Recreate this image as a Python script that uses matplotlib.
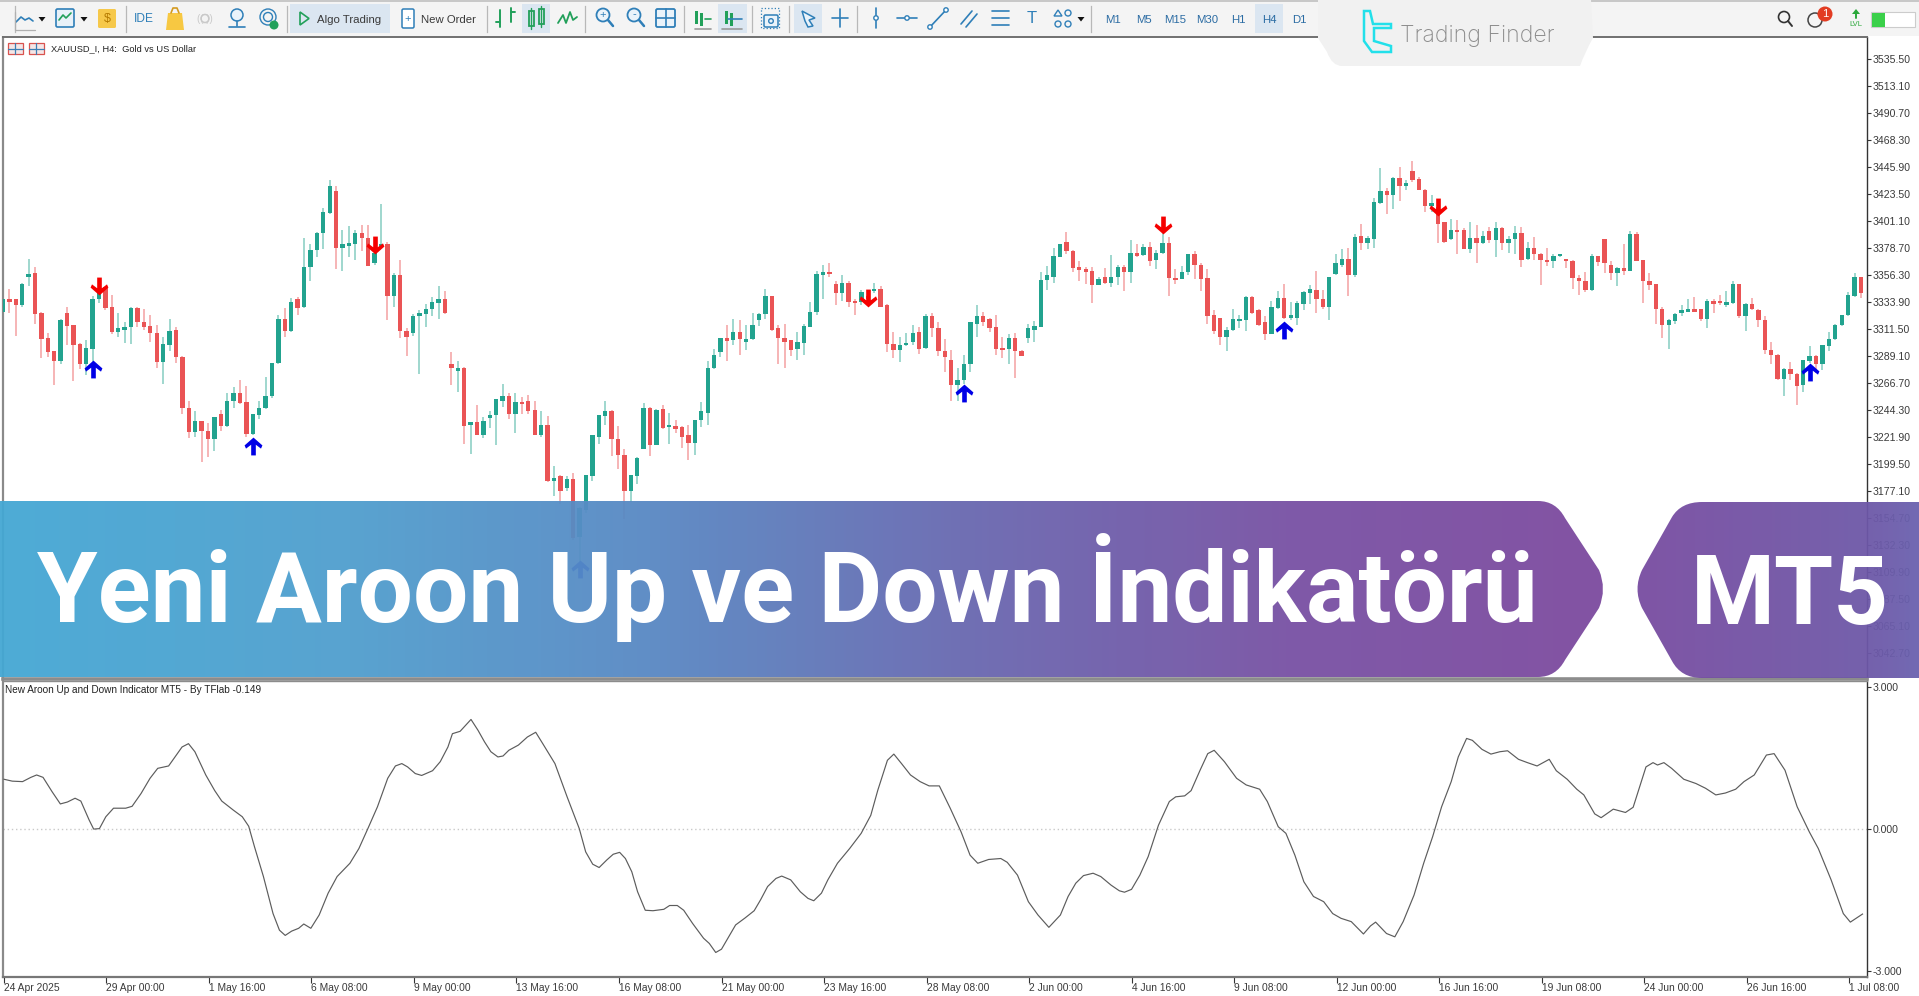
import numpy as np
import matplotlib
matplotlib.use("Agg")
import matplotlib.pyplot as plt
from matplotlib.path import Path
from matplotlib.patches import PathPatch, Rectangle, Circle, Polygon, FancyBboxPatch

body_high = [
3336,3336.5,3336,3349,3357,3358,3325,3304,3293,3319,
3325,3315,3299,3296,3336,3341,3346,3330,3312,3313,
3329,3329,3317,3314,3308,3299,3310,3311,3288,3246,
3235,3235,3227,3238,3241,3252,3258,3258,3251,3241,
3246,3256,3283,3320,3320,3334,3336,3363,3377,3391,
3409,3430,3426,3382,3383,3391,3391,3387,3375,3382,
3382,3356,3356,3310,3322,3325,3328,3334,3336,3336,
3282,3279,3279,3234,3234,3235,3240,3253,3256,3256,
3251,3251,3252,3244,3232,3232,3188,3189,3187,3187,
3163,3190,3223,3240,3243,3243,3220,3207,3190,3204,
3246,3246,3244,3245,3232,3231,3230,3223,3236,3243,
3279,3290,3304,3304,3309,3309,3303,3315,3324,3339,
3339,3312,3304,3302,3301,3314,3326,3357,3359,3359,
3349,3350,3350,3335,3342,3339,3345,3345,3331,3299,
3298,3300,3308,3309,3322,3322,3312,3293,3286,3269,
3282,3317,3322,3322,3320,3313,3296,3304,3304,3293,
3312,3314,3352,3356,3372,3382,3384,3376,3363,3361,
3360,3353,3355,3355,3363,3363,3375,3375,3380,3380,
3375,3383,3383,3354,3359,3374,3374,3365,3354,3323,
3321,3311,3320,3320,3338,3338,3327,3317,3330,3337,
3337,3323,3333,3342,3345,3344,3336,3355,3366,3370,
3370,3388,3389,3387,3417,3426,3426,3437,3437,3433,
3443,3436,3427,3416,3413,3400,3394,3394,3394,3387,
3387,3389,3393,3395,3395,3386,3391,3391,3379,3379,
3374,3369,3372,3374,3370,3368,3354,3351,3372,3372,
3386,3365,3362,3362,3390,3390,3369,3351,3349,3328,
3319,3324,3327,3328,3328,3328,3335,3335,3335,3334,
3349,3349,3332,3332,3327,3319,3294,3290,3278,3278,
3274,3286,3289,3289,3298,3303,3315,3323,3340,3355,3355]

body_low = [
3326,3335.5,3331,3331,3356,3324,3303,3292,3285,3285,
3314,3298,3282,3282,3295,3336,3329,3309,3309,3312,
3313,3317,3313,3308,3284,3284,3298,3288,3246,3226,
3226,3227,3220,3220,3231,3231,3252,3250,3224,3224,
3240,3246,3256,3283,3310,3310,3329,3330,3363,3377,
3391,3408,3379,3379,3382,3382,3387,3364,3366,3381,
3339,3339,3310,3305,3308,3322,3324,3328,3333,3325,
3279,3278,3231,3232,3223,3223,3239,3240,3252,3241,
3241,3250,3243,3223,3223,3185,3185,3177,3179,3138,
3139,3161,3189,3222,3239,3220,3207,3177,3177,3189,
3212,3215,3215,3229,3230,3230,3222,3217,3217,3236,
3242,3279,3292,3302,3302,3303,3302,3303,3319,3324,
3311,3304,3301,3294,3295,3300,3313,3326,3356,3358,
3341,3341,3334,3334,3334,3336,3343,3330,3299,3294,
3294,3298,3301,3295,3296,3312,3293,3288,3265,3265,
3269,3282,3316,3317,3312,3295,3295,3295,3293,3289,
3304,3311,3313,3352,3355,3371,3376,3362,3361,3360,
3348,3348,3350,3350,3355,3359,3359,3372,3373,3368,
3369,3375,3354,3353,3353,3359,3365,3353,3322,3310,
3305,3305,3311,3319,3319,3325,3315,3307,3307,3329,
3321,3322,3321,3332,3341,3336,3330,3330,3357,3365,
3356,3356,3383,3383,3386,3416,3423,3423,3430,3430,
3435,3427,3414,3414,3399,3384,3386,3393,3378,3378,
3383,3383,3385,3385,3383,3383,3386,3369,3370,3374,
3369,3368,3368,3372,3369,3354,3351,3344,3344,3367,
3366,3358,3358,3360,3360,3368,3351,3348,3328,3315,
3315,3318,3325,3326,3327,3320,3320,3332,3334,3333,
3333,3322,3322,3328,3319,3294,3290,3270,3270,3274,
3264,3265,3285,3282,3282,3297,3303,3315,3323,3339,3341]

wick_high = [
3336,3345,3336,3350,3370,3363,3326,3308,3293,3320,
3330,3315,3300,3302,3339,3348,3346,3340,3325,3317,
3330,3330,3328,3323,3315,3305,3320,3313,3289,3252,
3243,3235,3233,3238,3244,3258,3263,3269,3264,3241,
3252,3272,3283,3323,3329,3337,3338,3387,3382,3392,
3412,3435,3430,3394,3397,3394,3398,3398,3385,3415,
3384,3358,3369,3312,3324,3327,3332,3338,3347,3343,
3292,3285,3280,3234,3248,3238,3243,3253,3266,3258,
3258,3255,3257,3252,3243,3239,3198,3190,3189,3192,
3164,3190,3223,3240,3252,3244,3231,3212,3190,3205,
3250,3247,3245,3248,3242,3236,3231,3232,3236,3251,
3285,3295,3304,3315,3320,3319,3315,3325,3325,3345,
3339,3315,3316,3302,3309,3316,3334,3360,3365,3366,
3351,3356,3351,3336,3344,3341,3350,3347,3332,3309,
3305,3308,3315,3313,3324,3325,3317,3303,3294,3279,
3290,3317,3331,3326,3321,3323,3305,3307,3308,3294,
3316,3318,3359,3364,3379,3382,3392,3377,3368,3363,
3363,3355,3362,3373,3365,3365,3385,3382,3382,3384,
3377,3392,3388,3361,3364,3374,3376,3366,3361,3327,
3321,3313,3328,3323,3339,3339,3328,3322,3335,3343,
3349,3334,3335,3343,3348,3360,3344,3355,3374,3378,
3379,3390,3399,3389,3420,3445,3429,3438,3446,3435,
3451,3438,3428,3423,3419,3400,3403,3402,3395,3400,
3398,3393,3396,3400,3396,3389,3397,3396,3384,3388,
3375,3379,3374,3374,3370,3369,3356,3359,3374,3372,
3386,3368,3363,3382,3393,3392,3369,3358,3349,3330,
3320,3325,3331,3336,3338,3328,3336,3336,3340,3343,
3351,3349,3333,3337,3328,3322,3301,3291,3279,3284,
3275,3286,3297,3290,3298,3309,3316,3323,3342,3358,3355]

wick_low = [
3326,3325,3306,3330,3347,3316,3287,3288,3265,3282,
3298,3268,3278,3273,3283,3333,3327,3307,3305,3300,
3299,3313,3311,3301,3279,3266,3293,3283,3241,3221,
3222,3201,3205,3210,3227,3230,3246,3249,3222,3223,
3237,3245,3254,3282,3305,3309,3323,3329,3351,3371,
3378,3407,3361,3360,3371,3369,3376,3364,3365,3380,
3319,3330,3304,3289,3306,3274,3313,3322,3320,3324,
3265,3259,3216,3208,3223,3221,3229,3215,3247,3237,
3225,3241,3241,3223,3222,3184,3173,3166,3177,3136,
3118,3159,3185,3216,3232,3206,3195,3154,3168,3183,
3212,3206,3215,3228,3216,3225,3213,3203,3207,3230,
3232,3278,3288,3285,3298,3290,3294,3302,3314,3320,
3310,3282,3279,3289,3286,3290,3313,3323,3336,3355,
3331,3335,3330,3323,3331,3335,3341,3330,3292,3287,
3284,3297,3298,3291,3295,3305,3289,3276,3252,3252,
3266,3276,3305,3314,3309,3290,3287,3282,3271,3289,
3300,3301,3313,3344,3350,3371,3374,3359,3351,3349,
3333,3348,3349,3346,3348,3343,3350,3371,3372,3364,
3361,3374,3339,3349,3353,3356,3353,3343,3316,3307,
3298,3293,3310,3312,3310,3324,3314,3302,3307,3328,
3320,3319,3315,3327,3332,3325,3328,3319,3356,3363,
3339,3355,3377,3378,3379,3415,3407,3411,3418,3427,
3434,3427,3409,3409,3383,3383,3385,3374,3378,3375,
3366,3382,3383,3371,3377,3375,3374,3363,3369,3369,
3348,3364,3362,3371,3362,3345,3340,3342,3343,3364,
3358,3352,3347,3356,3360,3368,3333,3344,3316,3304,
3295,3316,3322,3326,3326,3318,3312,3325,3331,3330,
3332,3321,3310,3327,3313,3291,3282,3269,3256,3269,
3248,3259,3283,3275,3277,3293,3302,3314,3322,3338,3337]

direction = (
"GRRGGRRRRG" "RRRGGGRRGG" "GRRRRGGRRR" "GRRGRGGRRG" "GGGGRGRGGG"
"GGRGGGRRGG" "RGRRGGGGGR" "RGRGRGGGGR" "GRRRGRGRGR" "GGGGGRRRGG"
"GRGRGRRRGG" "GGGRGRGGGG" "RRRRGGGGGR" "RGRRGRGRRR" "GGGRGRRRRG"
"GGGRRRRGRR" "GGGGGGRRRR" "RGRGGRGRGR" "GGRRGGRRRR" "RGGGGRRRGG"
"RGGGGRRGGG" "RGRGGGRGRG" "RRRGRRGRRG" "RGRGRGGRGR" "RRGGRRRRGR"
"RRGRGRRRRR" "GGGGRRGRRG" "GRGRRRRRGR" "RGGRGGGGGGR")

up_arrow_bars = [14, 39, 90, 150, 200, 282]
up_arrow_prices = [3278, 3214, 3112, 3258, 3311, 3276]
down_arrow_bars = [15, 58, 135, 181, 224]
down_arrow_prices = [3347, 3381, 3337, 3398, 3413]

osc_bar = [
0.0,1.3,2.9,4.2,5.1,6.1,7.5,8.8,9.9,11.1,12.0,13.3,14.0,14.9,15.9,17.1,19.0,20.0,21.4,22.8,
24.0,25.7,26.7,27.8,28.8,29.8,31.5,32.9,34.0,35.8,37.2,38.2,39.1,40.5,42.0,43.0,43.9,44.9,46.0,46.8,
47.9,49.2,50.6,52.0,54.0,55.4,56.8,58.3,59.9,61.1,62.1,63.0,64.2,65.2,66.9,68.1,69.3,70.0,71.2,72.9,
74.0,75.0,76.0,77.1,77.9,78.8,80.3,81.7,83.0,84.1,86.0,87.9,89.8,90.8,91.9,92.9,94.1,95.1,96.1,97.0,
98.0,98.9,100.1,101.3,103.0,103.9,105.1,106.1,107.5,109.2,110.1,111.1,112.0,113.3,114.2,115.7,117.1,118.1,119.2,120.5,
121.4,122.8,124.3,125.5,126.4,127.6,128.6,130.1,132.0,133.8,135.3,136.4,137.9,138.9,140.1,141.5,143.0,144.4,146.0,147.7,
149.4,150.8,152.0,153.7,155.6,156.6,158.2,159.9,161.4,163.1,164.9,166.1,167.3,168.5,170.0,171.2,172.8,174.1,174.9,176.0,
177.3,178.6,180.2,181.9,182.9,184.3,185.3,186.7,187.9,188.9,190.5,192.4,193.9,196.0,197.2,198.9,200.1,201.5,202.9,204.4,
206.0,207.4,208.7,210.3,212.2,213.3,214.1,215.8,217.1,218.4,220.1,221.6,223.0,224.4,225.9,227.0,228.3,229.2,230.7,232.1,
233.5,234.7,236.4,237.8,239.3,241.2,242.3,244.0,245.5,246.6,248.3,249.3,251.2,253.1,254.3,256.3,257.4,258.1,259.1,260.3,
262.2,264.1,265.6,267.2,268.7,270.3,271.6,273.2,275.1,276.3,278.0,279.9,281.8,283.2,285.2,287.1,288.2,290.1]
osc_val = [
1.05,1.01,1.00,1.09,1.14,1.09,0.79,0.53,0.57,0.65,0.59,0.19,0.00,0.01,0.26,0.44,0.44,0.48,0.75,1.07,
1.28,1.33,1.52,1.73,1.80,1.63,1.14,0.81,0.59,0.40,0.26,0.06,-0.37,-1.00,-1.78,-2.13,-2.24,-2.15,-2.09,-2.00,
-2.09,-1.81,-1.35,-1.00,-0.72,-0.41,0.01,0.47,1.07,1.33,1.38,1.31,1.17,1.13,1.23,1.42,1.73,2.01,2.06,2.31,
2.08,1.84,1.63,1.52,1.54,1.66,1.77,1.94,2.04,1.80,1.38,0.68,0.01,-0.48,-0.74,-0.81,-0.65,-0.53,-0.49,-0.62,
-0.90,-1.32,-1.71,-1.72,-1.69,-1.61,-1.61,-1.71,-1.99,-2.30,-2.41,-2.60,-2.53,-2.23,-2.02,-1.87,-1.72,-1.49,-1.21,-1.04,
-0.99,-1.07,-1.32,-1.46,-1.51,-1.35,-1.07,-0.72,-0.41,-0.09,0.29,0.82,1.45,1.58,1.38,1.14,1.00,0.91,0.91,0.44,
-0.06,-0.55,-0.72,-0.64,-0.62,-0.70,-0.97,-1.53,-1.81,-2.07,-1.81,-1.42,-1.14,-0.98,-0.93,-1.00,-1.18,-1.30,-1.33,-1.27,
-0.97,-0.58,0.08,0.58,0.68,0.70,0.81,1.24,1.59,1.66,1.42,1.07,0.93,0.84,0.58,0.05,-0.09,-0.55,-1.11,-1.42,
-1.53,-1.78,-1.88,-1.95,-2.21,-2.04,-1.96,-2.20,-2.27,-1.95,-1.39,-0.72,-0.16,0.47,1.00,1.52,1.91,1.87,1.68,1.58,
1.63,1.65,1.47,1.40,1.33,1.47,1.23,1.05,0.84,0.72,0.32,0.24,0.42,0.35,0.46,1.31,1.40,1.35,1.40,1.28,
1.05,0.96,0.86,0.72,0.76,0.84,1.00,1.14,1.56,1.59,1.24,0.47,-0.06,-0.41,-1.07,-1.78,-1.96,-1.79]

price_ticks = [3535.50,3513.10,3490.70,3468.30,3445.90,3423.50,3401.10,3378.70,3356.30,3333.90,3311.50,3289.10,
               3266.70,3244.30,3221.90,3199.50,3177.10,3154.70,3132.30,3109.90,3087.50,3065.10,3042.70]
osc_ticks = [3.0, 0.0, -3.0]
time_tick_bars = list(range(0, 289, 16))
time_labels = ["24 Apr 2025","29 Apr 00:00","1 May 16:00","6 May 08:00","9 May 00:00","13 May 16:00","16 May 08:00",
               "21 May 00:00","23 May 16:00","28 May 08:00","2 Jun 00:00","4 Jun 16:00","9 Jun 08:00","12 Jun 00:00",
               "16 Jun 16:00","19 Jun 08:00","24 Jun 00:00","26 Jun 16:00","1 Jul 08:00"]

W, H = 1919, 996
plt.rcParams["font.family"] = ["Liberation Sans", "DejaVu Sans"]
fig = plt.figure(figsize=(W/100, H/100), dpi=100, facecolor="white")

def axpx(x0, y0, x1, y1, **kw):
    return fig.add_axes([x0/W, 1-y1/H, (x1-x0)/W, (y1-y0)/H], **kw)

GREEN, RED = "#22a38f", "#ea5455"
TXT = "#3a3a3a"

# ---- price pane
ax = axpx(3, 36.7, 1867, 679)
ax.set_xlim(0.01, 290.95)
ax.set_ylim(3020.7, 3554.3)
n = len(body_high)
xs = np.arange(n)
up = np.array([c == "G" for c in direction])
bh, bl = np.array(body_high, float), np.array(body_low, float)
colors = np.where(up, GREEN, RED)
ax.vlines(xs, wick_low, wick_high, colors=colors, linewidth=1.1, alpha=0.55, zorder=2)
heights = np.maximum(bh-bl, 2.2)
ax.bar(xs, heights, bottom=bh-heights, width=0.68, color=colors, linewidth=0, zorder=3)

up_m = Path([(-.13,-.5),(.13,-.5),(.13,.1),(.42,-.12),(.5,.06),(0,.5),(-.5,.06),(-.42,-.12),(-.13,.1),(-.13,-.5)], closed=True)
dn_m = Path([(x,-y) for x,y in up_m.vertices], closed=True)
ax.scatter(up_arrow_bars, up_arrow_prices, marker=up_m, s=165, color="#0000e6", linewidths=0, zorder=5)
ax.scatter(down_arrow_bars, down_arrow_prices, marker=dn_m, s=165, color="#f50000", linewidths=0, zorder=5)

ax.yaxis.tick_right()
ax.set_yticks(price_ticks)
ax.set_yticklabels([f"{v:.2f}" for v in price_ticks])
ax.tick_params(axis="y", length=3.2, width=0.8, pad=0.8, labelsize=7.6, labelcolor=TXT, color="#333333")
ax.set_xticks([])
ax.spines["top"].set(color="#707070", linewidth=1.4)
ax.spines["left"].set(color="#8a8a8a", linewidth=1.6)
ax.spines["right"].set(color="#333333", linewidth=1.0)
ax.spines["bottom"].set(color="#8c8c8c", linewidth=2.6)

# ---- oscillator pane
ao = axpx(3, 681, 1867, 976.7)
ao.set_xlim(-0.15, 290.8)
ao.set_ylim(-3.11, 3.12)
ao.axhline(0, color="#c9c9c9", linewidth=1.0, linestyle=(0, (1, 2)), zorder=1)
ao.plot(osc_bar, osc_val, color="#5c5c5c", linewidth=0.85, zorder=3)
ao.yaxis.tick_right()
ao.set_yticks(osc_ticks)
ao.set_yticklabels(["3.000", "0.000", "-3.000"])
ao.tick_params(axis="y", length=3.2, width=0.8, pad=0.8, labelsize=7.6, labelcolor=TXT, color="#333333")
ao.set_xticks(time_tick_bars)
ao.set_xticklabels(time_labels, ha="left")
ao.tick_params(axis="x", length=4, width=0.8, pad=0.5, labelsize=7.4, labelcolor=TXT, color="#333333")
for s, c, lw in [("top", "#8c8c8c", 1.0), ("left", "#8a8a8a", 1.6), ("right", "#333333", 1.0), ("bottom", "#777777", 1.6)]:
    ao.spines[s].set(color=c, linewidth=lw)

# ---- overlay in pixel coordinates
ov = fig.add_axes([0, 0, 1, 1], zorder=10)
ov.patch.set_alpha(0)
ov.axis("off")

def rrect(x0, y0, x1, y1, fc, ec="none", lw=0, z=2, r=1.5):
    ov.add_patch(FancyBboxPatch((x0+r, y0+r), x1-x0-2*r, y1-y0-2*r, boxstyle=f"round,pad={r}", fc=fc, ec=ec, lw=lw, zorder=z))

def gradient(stops, x0, x1, y0, y1, clip, alpha):
    xx = np.arange(x0, x1)
    px, cs = zip(*stops)
    cs = np.array(cs)/255
    img = np.stack([np.interp(xx, px, cs[:, k]) for k in range(3)], -1)[None, :, :]
    im = ov.imshow(img, extent=[x0, x1, y1, y0], aspect="auto", alpha=alpha, zorder=6, interpolation="bilinear")
    im.set_clip_path(clip)

M, L, C = Path.MOVETO, Path.LINETO, Path.CURVE3
b1 = Path([(0,501),(1538,501),(1556,501),(1565,518),(1599,570),(1607,589),(1599,608),(1565,660),(1556,677),(1538,677),(0,677),(0,501)],
          [M,L,C,C,L,C,C,L,C,C,L,L])
b2 = Path([(1919,502),(1702,502),(1681,502),(1672,517),(1642,570),(1633,589),(1642,608),(1672,661),(1681,678),(1702,678),(1919,678),(1919,502)],
          [M,L,C,C,L,C,C,L,C,C,L,L])
p1 = PathPatch(b1, fc="none", ec="none", transform=ov.transData)
p2 = PathPatch(b2, fc="none", ec="none", transform=ov.transData)
ov.add_patch(p1); ov.add_patch(p2)
gradient([(0,(68,168,212)),(350,(80,158,206)),(650,(88,136,195)),(960,(104,104,176)),(1300,(120,80,163)),(1603,(124,74,158))],
         0, 1610, 501, 677, p1, 0.95)
gradient([(1637,(120,76,160)),(1867,(110,88,168)),(1919,(106,98,175))], 1630, 1919, 502, 678, p2, 0.95)

BANNER_FONT = ["Roboto", "DejaVu Sans"]
ov.text(37, 622, "Yeni Aroon Up ve Down İndikatörü", color="white", fontsize=70.6, fontweight="bold",
        family=BANNER_FONT, ha="left", va="baseline", zorder=8)
ov.text(1691, 624, "MT5", color="white", fontsize=69, fontweight="bold",
        family=BANNER_FONT, ha="left", va="baseline", zorder=8)

# toolbar
ov.add_patch(Rectangle((0, 0), W, 36, fc="#f4f4f4", ec="none", zorder=1))
ov.add_patch(Rectangle((0, 0), W, 2, fc="#c8c8c8", ec="none", zorder=1.1))
for (x0, x1) in [(290, 390), (522, 550), (718, 747), (794, 822), (1255, 1283)]:
    ov.add_patch(Rectangle((x0, 4), x1-x0, 29, fc="#dbe6f1", ec="none", zorder=1.5))
for x in [15, 125.5, 287, 487, 585, 684, 752, 789, 857, 1091]:
    ov.plot([x, x], [6, 32], color="#b8b8b8", lw=0.9, zorder=2)
BL, GR = "#2f7fb8", "#22a05a"
def T(x, y, s, c=TXT, fs=8.2, **kw):
    ov.text(x, y, s, color=c, fontsize=fs, ha=kw.pop("ha", "left"), va="center", zorder=3, **kw)
def P(xs_, ys_, c, lw=1.2):
    ov.plot(xs_, ys_, color=c, lw=lw, zorder=3, solid_capstyle="round")
def tri(x, y):
    ov.add_patch(Polygon([(x-3.5, y-2), (x+3.5, y-2), (x, y+2.5)], fc="#111111", ec="none", zorder=3))
P([16,21,25,29,33], [22,17,20,18,21], BL); P([15,15,35], [12,30,30], "#b0b0b0", 0.9); tri(42, 19)
rrect(56, 9, 74, 27, "#e8f1f8", BL, 1.2, 3); P([59,63,66,71], [20,15,18,13], GR); tri(84, 19)
rrect(98, 9, 116, 28, "#f6c84a", "none", 0, 3); T(107, 18.5, "$", "#b57a00", 9, ha="center")
T(134, 18.5, "IDE", BL, 8.6)
ov.add_patch(Polygon([(168,13),(182,13),(184,30),(166,30)], fc="#f7c842", ec="none", zorder=3)); P([171,173,177,179], [13,8,8,13], "#d49a20")
ov.add_patch(Circle((205, 18.5), 4, fc="none", ec="#c9c9c9", lw=1.1, zorder=3)); T(205, 18.5, "(( ))", "#c9c9c9", 7, ha="center")
ov.add_patch(Circle((237, 15), 6, fc="#eaf3fa", ec=BL, lw=1.1, zorder=3)); P([237,237], [21,26], BL); P([229,245], [27,27], BL)
ov.add_patch(Circle((268, 17), 8, fc="none", ec=BL, lw=1.0, zorder=3)); ov.add_patch(Circle((268, 17), 4.5, fc="none", ec=BL, lw=1.0, zorder=3)); ov.add_patch(Circle((274, 25), 4.5, fc=GR, ec="none", zorder=3.2))
ov.add_patch(Polygon([(300,12),(309,18.5),(300,25)], fc="none", ec=GR, lw=1.2, zorder=3)); T(317, 19.5, "Algo Trading")
rrect(402, 9, 414, 28, "white", BL, 1.1, 3); T(408, 18.5, "+", BL, 8, ha="center"); T(421, 19.5, "New Order")
P([500,500], [10,27], GR, 1.4); P([511,511], [8,22], GR, 1.4); P([496,500], [22,22], GR, 1.4); P([511,515], [12,12], GR, 1.4)
for x, (a, b) in [(531, (11, 26)), (541, (9, 24))]:
    ov.add_patch(Rectangle((x-2.5, a), 5, b-a, fc="none", ec=GR, lw=1.3, zorder=3)); P([x,x], [a-3,b+3], GR, 1)
P([558,563,566,570,573,577], [23,15,23,12,20,17], GR, 1.3)
for x, s in [(603, "+"), (634, "-")]:
    ov.add_patch(Circle((x, 15), 6.5, fc="#eaf3fa", ec=BL, lw=1.3, zorder=3)); P([x+5,x+10], [20,26], BL, 1.8); T(x, 14.5, s, BL, 8, ha="center")
rrect(656, 9, 675, 27, "#eaf3fa", BL, 1.3, 3); P([665.5,665.5], [9,27], BL); P([656,675], [18,18], BL)
for x0 in [696, 726]:
    for dx, (a, b) in [(0, (11, 24)), (5, (13, 26))]:
        ov.add_patch(Rectangle((x0+dx-1.5, a), 3, b-a, fc=GR, ec="none", zorder=3))
P([705,711], [19,19], GR); P([728,742], [19,19], BL); P([695,711], [29,29], "#9a9a9a"); P([722,742], [29,29], "#9a9a9a")
ov.add_patch(Rectangle((761, 8), 18, 20, fc="none", ec=BL, lw=0.9, ls=":", zorder=3)); rrect(764, 15, 778, 27, "#eaf3fa", BL, 1.1, 3); ov.add_patch(Circle((771, 21), 2.3, fc="none", ec=BL, lw=1, zorder=3.5))
ov.add_patch(Polygon([(802,11),(815,18),(809,20),(813,26),(808,27),(805,21)], fc="#eaf3fa", ec=BL, lw=1.1, zorder=3))
P([840,840], [9,27], BL); P([832,848], [18,18], BL); P([876,876], [8,28], BL); ov.add_patch(Circle((876, 18), 2.2, fc="white", ec=BL, lw=1, zorder=3.2))
P([897,917], [18,18], BL); ov.add_patch(Circle((907, 18), 2.2, fc="white", ec=BL, lw=1, zorder=3.2))
P([930,946], [27,10], BL); ov.add_patch(Circle((930, 27), 2.2, fc="white", ec=BL, lw=1, zorder=3.2)); ov.add_patch(Circle((946, 10), 2.2, fc="white", ec=BL, lw=1, zorder=3.2))
P([961,972], [24,11], BL); P([966,977], [27,14], BL)
for y in [11, 18, 25]:
    P([992,1009], [y,y], BL)
T(1031.5, 18.5, "T", BL, 12, ha="center")
ov.add_patch(Polygon([(1058,10),(1062,16),(1054,16)], fc="none", ec=BL, lw=1, zorder=3)); ov.add_patch(Circle((1068, 13), 3, fc="none", ec=BL, lw=1, zorder=3))
ov.add_patch(Circle((1058, 24), 3, fc="none", ec=BL, lw=1, zorder=3)); ov.add_patch(Circle((1068, 24), 3, fc="none", ec=BL, lw=1, zorder=3)); tri(1081, 19)
for x, s in [(1112.5,"M1"),(1144,"M5"),(1175,"M15"),(1207,"M30"),(1238,"H1"),(1269,"H4"),(1299,"D1")]:
    T(x, 19.5, s, "#2b6ca3", 8.2, ha="center")
ov.add_patch(Circle((1784, 17), 5.5, fc="none", ec="#333333", lw=1.2, zorder=3)); P([1788,1792], [21,26], "#333333", 1.4)
ov.add_patch(Circle((1815, 20), 7, fc="none", ec="#444444", lw=1.1, zorder=3)); ov.add_patch(Circle((1825, 14), 7.5, fc="#e23c22", ec="none", zorder=3.2))
ov.text(1825, 14, "1", color="white", fontsize=8, ha="center", va="center", zorder=3.4)
T(1856, 24, "LVL", "#2aa83a", 5.5, ha="center"); ov.add_patch(Polygon([(1856,9),(1860,14),(1852,14)], fc="#2aa83a", ec="none", zorder=3)); P([1856,1856], [14,18], "#2aa83a", 1.4)
ov.add_patch(Rectangle((1871, 12), 44, 15, fc="white", ec="#cccccc", lw=0.8, zorder=3)); ov.add_patch(Rectangle((1872, 12.5), 13, 14, fc="#3bd04a", ec="none", zorder=3.2))

# chart captions
for x0, c in [(8, "#d9534f"), (29, "#d9534f")]:
    ov.add_patch(Rectangle((x0, 43), 15, 11, fc="#f5e6e6", ec=c, lw=0.9, zorder=3))
    P([x0, x0+15], [48.5, 48.5], "#3c7fb5", 0.9); P([x0+7, x0+7], [43, 54], "#3c7fb5", 0.9)
T(51, 49, "XAUUSD_I, H4:  Gold vs US Dollar", "#222222", 6.7)
T(5, 690, "New Aroon Up and Down Indicator MT5 - By TFlab -0.149", "#222222", 7.2)

# watermark
wm = Path([(1318,0),(1591,0),(1593,38),(1585,52),(1580,66),(1570,66),(1342,66),(1332,66),(1327,52),(1318,38),(1318,0)],
          [M,L,L,C,C,L,L,C,C,L,L])
ov.add_patch(PathPatch(wm, fc="#f1f1f1", ec="none", zorder=4))
logo = [(1364,11),(1370,11),(1373,24),(1391,24),(1391,28),(1374,28),(1374,41),(1391,46),(1391,52),(1372,52),(1364,41),(1364,11)]
ov.add_patch(Polygon(logo, fc="none", ec="#22e0ea", lw=1.8, zorder=5))
ov.text(1400, 36, "Trading Finder", color="#8c8c8c", fontsize=16.6, family=["Inter", "DejaVu Sans"], fontweight="light",
        ha="left", va="center", zorder=5)

ov.set_xlim(0, W)
ov.set_ylim(H, 0)
fig.savefig("out.png", dpi=100)
